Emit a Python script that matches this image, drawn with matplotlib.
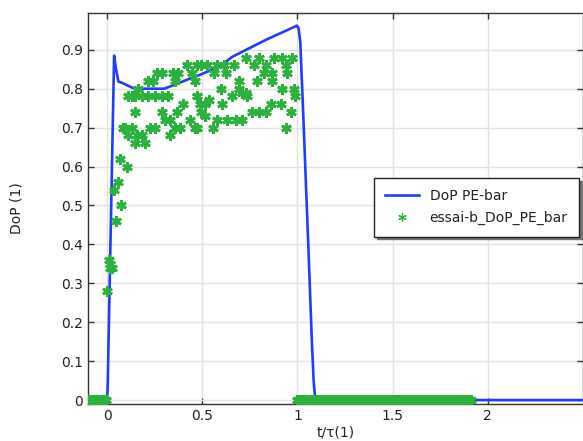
import matplotlib
matplotlib.use("Agg")
import matplotlib.pyplot as plt
from matplotlib.ticker import FuncFormatter

# --- simulated curve: DoP PE-bar ---
line_t = [-0.1, 0.0, 0.003, 0.037, 0.047, 0.06, 0.08, 0.1, 0.135, 0.16, 0.22,
          0.30, 0.355, 0.38, 0.43, 0.50, 0.59, 0.658, 0.731, 0.836, 0.94, 0.997,
          1.006, 1.015, 1.03, 1.045, 1.06, 1.075, 1.085, 1.092, 1.1, 2.5]
line_dop = [0.0, 0.0, 0.03, 0.885, 0.85, 0.818, 0.815, 0.81, 0.802, 0.80, 0.80,
            0.80, 0.81, 0.815, 0.825, 0.838, 0.857, 0.882, 0.90, 0.926, 0.949, 0.962,
            0.955, 0.92, 0.74, 0.55, 0.36, 0.16, 0.05, 0.01, 0.0, 0.0]

# --- measured points: essai-b_DoP_PE_bar ---
meas_t = [
    # leading zeros
    -0.100, -0.095, -0.090, -0.085, -0.080, -0.075, -0.070, -0.065, -0.060,
    -0.055, -0.050, -0.045, -0.040, -0.035, -0.030, -0.025, -0.020, -0.015,
    -0.010, -0.005,
    # rising edge
    0.000, 0.010, 0.013, 0.016, 0.026, 0.047, 0.037, 0.057, 0.068, 0.073, 0.104,
    # plateau
    0.094, 0.110, 0.084, 0.131, 0.157, 0.183, 0.146, 0.198, 0.146,
    0.110, 0.131, 0.146, 0.183, 0.214, 0.251, 0.287, 0.319,
    0.162, 0.214, 0.240, 0.261, 0.287, 0.345, 0.371, 0.355,
    0.418, 0.475, 0.444, 0.460, 0.397, 0.475, 0.486, 0.366, 0.287,
    0.303, 0.329, 0.433, 0.225, 0.251, 0.355, 0.381, 0.460, 0.329,
    0.496, 0.527, 0.580, 0.616, 0.668,
    0.731, 0.799, 0.877, 0.919, 0.971,
    0.773, 0.836, 0.940, 0.564, 0.627, 0.825, 0.867, 0.945,
    0.789, 0.867, 0.695, 0.695, 0.710, 0.982, 0.601, 0.919, 0.731,
    0.658, 0.470, 0.736, 0.987, 0.538, 0.512, 0.606, 0.496, 0.512,
    0.862, 0.914, 0.762, 0.799, 0.836, 0.966,
    0.580, 0.632, 0.679, 0.710, 0.475, 0.554, 0.940,
    # trailing zeros
    1.00, 1.01, 1.02, 1.03, 1.04, 1.05, 1.06, 1.07, 1.08, 1.09,
    1.10, 1.11, 1.12, 1.13, 1.14, 1.15, 1.16, 1.17, 1.18, 1.19,
    1.20, 1.21, 1.22, 1.23, 1.24, 1.25, 1.26, 1.27, 1.28, 1.29,
    1.30, 1.31, 1.32, 1.33, 1.34, 1.35, 1.36, 1.37, 1.38, 1.39,
    1.40, 1.41, 1.42, 1.43, 1.44, 1.45, 1.46, 1.47, 1.48, 1.49,
    1.50, 1.51, 1.52, 1.53, 1.54, 1.55, 1.56, 1.57, 1.58, 1.59,
    1.60, 1.61, 1.62, 1.63, 1.64, 1.65, 1.66, 1.67, 1.68, 1.69,
    1.70, 1.71, 1.72, 1.73, 1.74, 1.75, 1.76, 1.77, 1.78, 1.79,
    1.80, 1.81, 1.82, 1.83, 1.84, 1.85, 1.86, 1.87, 1.88, 1.89,
    1.90, 1.91,
]
meas_dop = (
    [0] * 20 +
    [0.28, 0.36, 0.35, 0.34, 0.34, 0.46, 0.54, 0.56, 0.62, 0.50, 0.60,
     0.70, 0.68, 0.70, 0.70, 0.68, 0.68, 0.66, 0.66, 0.74,
     0.78, 0.78, 0.78, 0.78, 0.78, 0.78, 0.78, 0.78,
     0.80, 0.82, 0.82, 0.84, 0.84, 0.84, 0.84, 0.82,
     0.86, 0.86, 0.84, 0.82, 0.76, 0.78, 0.76, 0.74, 0.74,
     0.72, 0.72, 0.72, 0.70, 0.70, 0.70, 0.70, 0.70, 0.68,
     0.86, 0.86, 0.86, 0.86, 0.86,
     0.88, 0.88, 0.88, 0.88, 0.88,
     0.86, 0.86, 0.86, 0.84, 0.84, 0.84, 0.84, 0.84,
     0.82, 0.82, 0.82, 0.80, 0.79, 0.80, 0.80, 0.80, 0.79,
     0.78, 0.78, 0.78, 0.78, 0.77, 0.76, 0.76, 0.74, 0.73,
     0.76, 0.76, 0.74, 0.74, 0.74, 0.74,
     0.72, 0.72, 0.72, 0.72, 0.70, 0.70, 0.70] +
    [0] * 92
)

x_ticks = [0, 0.5, 1, 1.5, 2]
y_ticks = [0, 0.1, 0.2, 0.3, 0.4, 0.5, 0.6, 0.7, 0.8, 0.9]

plt.rcParams['font.family'] = ['DejaVu Sans']
plt.rcParams['font.size'] = 10

fig = plt.figure(figsize=(5.83, 4.41), dpi=100)
ax = fig.add_axes([0.151, 0.084, 0.849, 0.887])

ax.plot(line_t, line_dop, color='#1f3cff', lw=1.9, label='DoP PE-bar', zorder=3)
ax.plot(meas_t, meas_dop, linestyle='none', marker=(6, 2, 0), markersize=7.5,
        markeredgewidth=2.0, color='#2ab33c', markeredgecolor='#2ab33c',
        label='essai-b_DoP_PE_bar', zorder=4)

ax.set_xlim(-0.1, 2.5)
ax.set_ylim(-0.01, 0.995)
ax.set_xticks(x_ticks)
ax.set_yticks(y_ticks)
fmt = FuncFormatter(lambda v, p: ('%g' % v))
ax.xaxis.set_major_formatter(fmt)
ax.yaxis.set_major_formatter(fmt)

ax.grid(True, color='#e3e3e3', lw=1.0, zorder=0)
ax.set_axisbelow(True)
ax.tick_params(direction='in', length=4, width=1, colors='#333333',
               top=True, right=True, labelsize=10, labelcolor='#222222')
for s in ax.spines.values():
    s.set_color('#333333')
    s.set_linewidth(1.0)

ax.set_xlabel('t/τ(1)', color='#222222')
ax.set_ylabel('DoP (1)', color='#222222')
ax.xaxis.set_label_coords(0.5, -0.056)
ax.yaxis.set_label_coords(-0.13, 0.5)

leg = ax.legend(loc='upper left', bbox_to_anchor=(0.578, 0.578), borderaxespad=0,
                frameon=True, fancybox=False,
                shadow={'color': '0.45', 'alpha': 1.0},
                edgecolor='#222222', framealpha=1, borderpad=0.8,
                handlelength=2.4, labelspacing=0.6, fontsize=10)
leg.get_frame().set_linewidth(1.0)
for t in leg.get_texts():
    t.set_color('#222222')
leg.legend_handles[1].set_markersize(6)
leg.legend_handles[1].set_markeredgewidth(0.9)

fig.savefig('out.png', dpi=100)
